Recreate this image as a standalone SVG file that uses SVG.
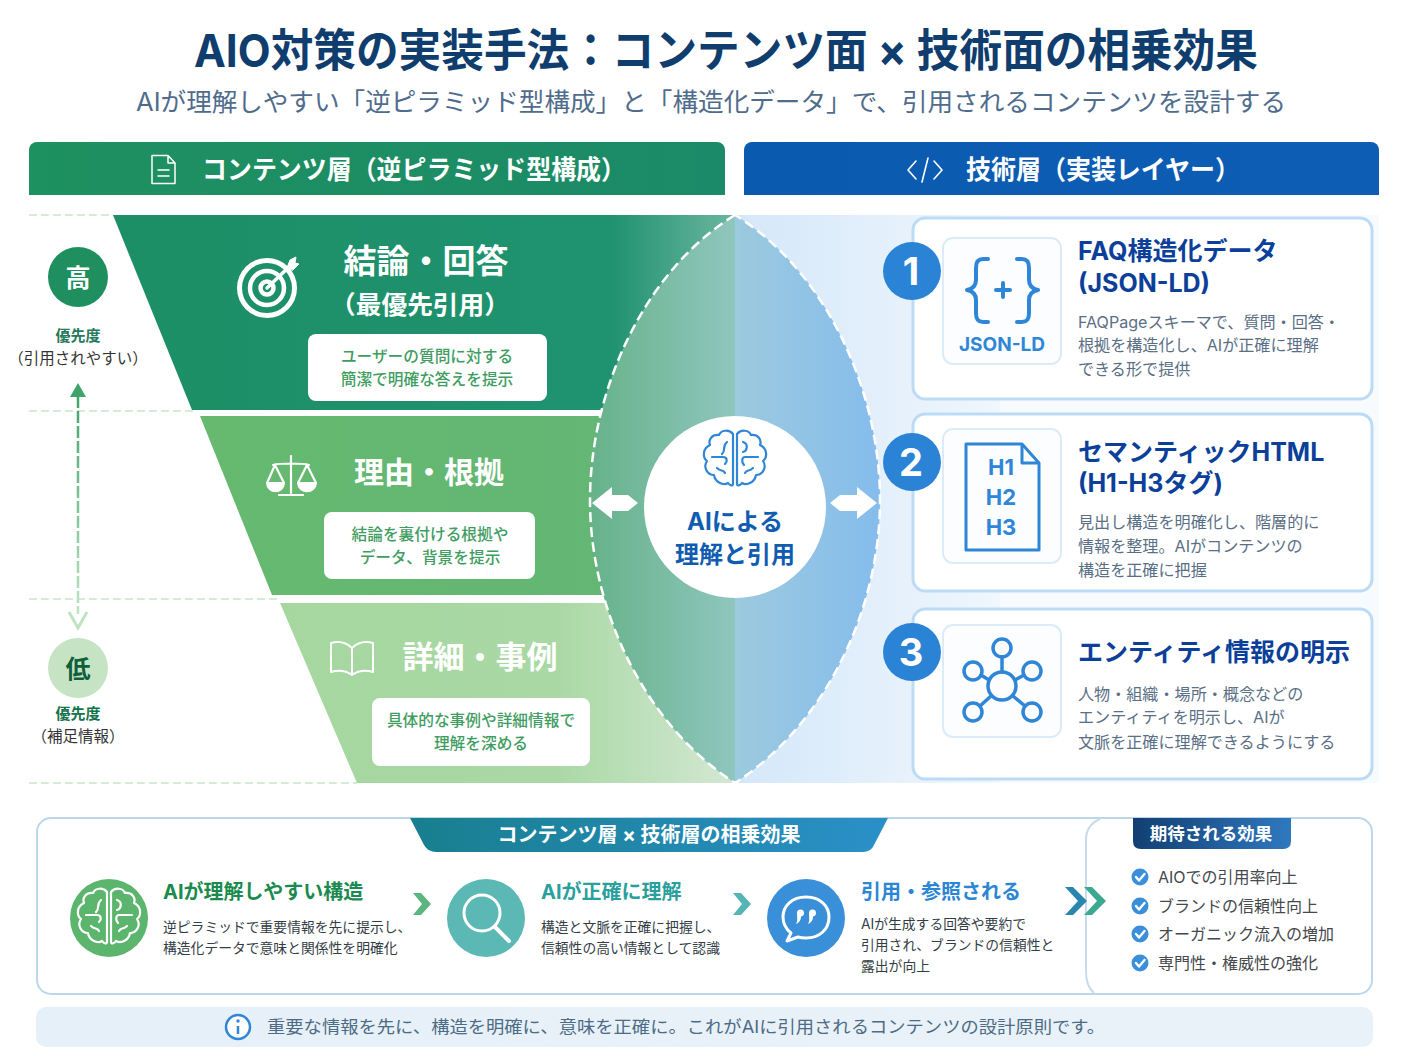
<svg xmlns="http://www.w3.org/2000/svg" width="1408" height="1056" viewBox="0 0 1408 1056">
<style>
text{font-family:Inter,"Noto Sans CJK JP","Noto Sans",sans-serif}
.b{font-weight:700}.m{text-anchor:middle}
.w{fill:#fff}
.ln{fill:none;stroke:#fff;stroke-linecap:round;stroke-linejoin:round}
.bl{fill:none;stroke:#2f86d6;stroke-linecap:round;stroke-linejoin:round}
.gt{font-size:15.700px;fill:#3f9d62;font-weight:500}
.bt{font-size:25px;font-weight:700;fill:#0b3f9a}
.d{font-size:16.100px;fill:#5a6f85}
.s{font-size:13.800px;fill:#333d45}
.st{font-size:20px;font-weight:700}
.c{font-size:16px;fill:#45484c}
.dash{stroke:#d6ecd9;stroke-width:2;stroke-dasharray:8 4;fill:none}
.outer{fill:#fff;stroke:#bcdcf6;stroke-width:3}
.icon{fill:#fbfdff;stroke:#dcebf8;stroke-width:2}
.num{fill:#2b83d6}
.wb{fill:#fff}
</style>
<defs>
<linearGradient id="gHead1" x1="0" x2="1"><stop offset="0" stop-color="#1e9160"/><stop offset="1" stop-color="#1b8a68"/></linearGradient>
<linearGradient id="gHead2" x1="0" x2="1"><stop offset="0" stop-color="#0a5bb0"/><stop offset="1" stop-color="#0e5db5"/></linearGradient>
<linearGradient id="gB1" gradientUnits="userSpaceOnUse" x1="113" x2="735" y1="0" y2="0"><stop offset="0" stop-color="#1d8f66"/><stop offset=".8" stop-color="#1f9270"/><stop offset="1" stop-color="#6db69f"/></linearGradient>
<linearGradient id="gB2" x1="0" x2="1"><stop offset="0" stop-color="#66b96f"/><stop offset="1" stop-color="#63b674"/></linearGradient>
<linearGradient id="gB3" gradientUnits="userSpaceOnUse" x1="280" x2="735" y1="0" y2="0"><stop offset="0" stop-color="#a6d79f"/><stop offset=".6" stop-color="#a9d8a4"/><stop offset="1" stop-color="#d3e8d3"/></linearGradient>
<linearGradient id="gBlue" gradientUnits="userSpaceOnUse" x1="735" x2="1000" y1="0" y2="0"><stop offset="0" stop-color="#d4e7f9"/><stop offset="1" stop-color="#f0f7fd"/></linearGradient>
<linearGradient id="gLensL" gradientUnits="userSpaceOnUse" x1="590" x2="735" y1="0" y2="0"><stop offset="0" stop-color="#66b28a"/><stop offset="1" stop-color="#8fc6bd"/></linearGradient>
<linearGradient id="gLensR" gradientUnits="userSpaceOnUse" x1="735" x2="880" y1="0" y2="0"><stop offset="0" stop-color="#9ccade"/><stop offset="1" stop-color="#85bcec"/></linearGradient>
<linearGradient id="gTab" x1="0" x2="1"><stop offset="0" stop-color="#187f8f"/><stop offset="1" stop-color="#2a90c8"/></linearGradient>
<linearGradient id="gTab2" x1="0" x2="1"><stop offset="0" stop-color="#123f72"/><stop offset="1" stop-color="#2f78bf"/></linearGradient>
<linearGradient id="gPri" gradientUnits="userSpaceOnUse" x1="78" x2="78" y1="396" y2="614"><stop offset="0" stop-color="#3ea568"/><stop offset="1" stop-color="#bfe3c2"/></linearGradient>
<linearGradient id="gNote" x1="0" x2="1"><stop offset="0" stop-color="#e6f0f8"/><stop offset="1" stop-color="#eaf2f9"/></linearGradient>
<clipPath id="lensL"><rect x="580" y="210" width="155" height="580"/></clipPath>
<clipPath id="lensR"><rect x="735" y="210" width="155" height="580"/></clipPath>
<g id="brainShape">
<path d="M-2 -26C-6 -31-14-30-16-25C-23-26-27-20-25-15C-32-12-33-3-28 1C-32 7-28 15-21 15C-20 22-12 26-7 23C-5 26-2 26-2 24Z"/>
<path d="M2 -26C6 -31 14-30 16-25C23-26 27-20 25-15C32-12 33-3 28 1C32 7 28 15 21 15C20 22 12 26 7 23C5 26 2 26 2 24Z"/>
<path d="M-8-18C-13-14-9-9-13-6M-23-3H-12C-8-3-7 1-10 4M-18 8C-14 12-12 9-10 13M8-18C14-16 12-9 8-8M23-3H10C7-3 6 2 9 5M18 8C14 12 12 9 10 13"/>
</g>
<g id="check"><circle r="8.500" fill="#3a8fdb"/><path d="M-4 0L-1 3.500L4.500-3" fill="none" stroke="#fff" stroke-width="2.400" stroke-linecap="round" stroke-linejoin="round"/></g>
</defs>
<rect width="1408" height="1056" fill="#fff"/>

<g id="title">
<text x="726" y="67" class="b m" font-size="45" fill="#0f3d6e" textLength="1064" lengthAdjust="spacingAndGlyphs">AIO対策の実装手法：コンテンツ面 × 技術面の相乗効果</text>
<text x="711" y="111" class="m" font-size="25" fill="#4f6c8c" textLength="1150" lengthAdjust="spacingAndGlyphs">AIが理解しやすい「逆ピラミッド型構成」と「構造化データ」で、引用されるコンテンツを設計する</text>
</g>

<g id="header-content">
<path d="M29 195V150a8 8 0 0 1 8-8H717a8 8 0 0 1 8 8V195Z" fill="url(#gHead1)"/>
<path d="M152 155.500H168L175 163V183.500H152ZM168 155.500V163H175M158 170H169M158 176H169" class="ln" stroke-width="1.500"/>
<text x="202" y="179" class="b w" font-size="26" textLength="424" lengthAdjust="spacingAndGlyphs">コンテンツ層（逆ピラミッド型構成）</text>
</g>
<g id="header-tech">
<path d="M744 195V150a8 8 0 0 1 8-8H1371a8 8 0 0 1 8 8V195Z" fill="url(#gHead2)"/>
<path d="M916 161L908 170L916 179M934 161L942 170L934 179M928 158L922 182" class="ln" stroke-width="1.600"/>
<text x="966" y="179" class="b w" font-size="26" textLength="274" lengthAdjust="spacingAndGlyphs">技術層（実装レイヤー）</text>
</g>

<g id="backdrop">
<rect x="735" y="215" width="265" height="568" fill="url(#gBlue)"/>
<rect x="1000" y="215" width="379" height="568" fill="#f7fbfe"/>
<path d="M29 215H113M29 411H194M29 599H278M29 783H357" class="dash"/>
</g>

<g id="band1">
<path d="M113 215H735V410H192Z" fill="url(#gB1)"/>
<g class="ln">
<circle cx="267" cy="288" r="27.500" stroke-width="5"/><circle cx="267" cy="288" r="17" stroke-width="4.500"/>
<circle cx="267" cy="288" r="6.500" stroke-width="4.500"/><path d="M267 288L292 264" stroke-width="3.500"/>
<path d="M287 268L290 260L296 257L295 263L299 264L293 270Z" fill="#fff" stroke-width="1"/>
</g>
<text x="426" y="273" class="b m w" font-size="33">結論・回答</text>
<text x="420" y="314" class="b m w" font-size="25" textLength="180" lengthAdjust="spacingAndGlyphs">（最優先引用）</text>
<rect x="308" y="334" width="239" height="67" rx="8" class="wb"/>
<text x="427" y="362" class="m gt">ユーザーの質問に対する</text>
<text x="427" y="385" class="m gt">簡潔で明確な答えを提示</text>
</g>

<g id="band2">
<path d="M200 416H640V595H272Z" fill="url(#gB2)"/>
<g class="ln" stroke-width="2.200">
<path d="M291 456V493M279 495H303M273 465C280 463 302 463 309 465"/>
<path d="M275 465L267 483H284ZM307 465L298 483H316Z"/>
<path d="M267 483C268 494 283 494 284 483ZM298 483C299 494 315 494 316 483Z" fill="#fff"/>
</g>
<text x="429" y="483" class="b m w" font-size="30">理由・根拠</text>
<rect x="324" y="512" width="211" height="67" rx="8" class="wb"/>
<text x="430" y="540" class="m gt">結論を裏付ける根拠や</text>
<text x="430" y="563" class="m gt">データ、背景を提示</text>
</g>

<g id="band3">
<path d="M280 603H735V783H357Z" fill="url(#gB3)"/>
<path d="M352 648C345 641 338 641 331 643V672C338 670 345 670 352 675C359 670 366 670 373 672V643C366 641 359 641 352 648ZM352 648V675" class="ln" stroke-width="2"/>
<text x="480" y="668" class="b m w" font-size="31">詳細・事例</text>
<rect x="372" y="698" width="218" height="68" rx="8" class="wb"/>
<text x="481" y="726" class="m gt">具体的な事例や詳細情報で</text>
<text x="481" y="749" class="m gt">理解を深める</text>
</g>

<g id="lens">
<path d="M735 215C645 270 590 390 590 500C590 610 645 725 735 783C825 725 880 610 880 500C880 390 825 270 735 215Z" fill="url(#gLensL)" clip-path="url(#lensL)"/>
<path d="M735 215C645 270 590 390 590 500C590 610 645 725 735 783C825 725 880 610 880 500C880 390 825 270 735 215Z" fill="url(#gLensR)" clip-path="url(#lensR)"/>
<path d="M735 215C645 270 590 390 590 500C590 610 645 725 735 783C825 725 880 610 880 500C880 390 825 270 735 215Z" fill="none" stroke="#fff" stroke-width="2.500" stroke-dasharray="10 5"/>
</g>

<g id="center-ai">
<circle cx="735" cy="507" r="91" fill="#fff"/>
<use href="#brainShape" x="735" y="460" class="bl" stroke-width="2.200"/>
<text x="735" y="530" class="b m" font-size="24" fill="#0f5cb0">AIによる</text>
<text x="735" y="563" class="b m" font-size="24" fill="#0f5cb0">理解と引用</text>
</g>

<g id="priority">
<g id="priority-high">
<circle cx="78" cy="277" r="30" fill="#1f8f5f"/>
<text x="78" y="287" class="b m w" font-size="25">高</text>
<text x="78" y="341" class="b m" font-size="15" fill="#26795a">優先度</text>
<text x="78" y="364" class="m" font-size="15.500" fill="#333">（引用されやすい）</text>
</g>
<g id="priority-low">
<circle cx="78" cy="668" r="30" fill="#c6e4c4"/>
<text x="78" y="678" class="b m" font-size="25" fill="#0f5f3c">低</text>
<text x="78" y="719" class="b m" font-size="15" fill="#14734a">優先度</text>
<text x="78" y="742" class="m" font-size="15.500" fill="#333">（補足情報）</text>
</g>
</g>

<g id="card1">
<rect x="913" y="218" width="459" height="181" rx="12" class="outer"/>
<rect x="943" y="238" width="118" height="126" rx="10" class="icon"/>
<g class="bl" stroke-width="4">
<path d="M988 259H983C977 259 976 263 976 268V280C976 286 972 289 967 290C972 291 976 294 976 300V313C976 318 977 322 983 322H988"/>
<path d="M1017 259H1022C1028 259 1029 263 1029 268V280C1029 286 1033 289 1038 290C1033 291 1029 294 1029 300V313C1029 318 1028 322 1022 322H1017"/>
<path d="M1003 283V297M996 290H1010"/>
</g>
<text x="1002" y="351" class="b m" font-size="19" fill="#2f86d6">JSON-LD</text>
<text x="1078" y="260" class="bt">FAQ構造化データ</text>
<text x="1078" y="292" class="bt">(JSON-LD)</text>
<text x="1078" y="328" class="d">FAQPageスキーマで、質問・回答・</text>
<text x="1078" y="351" class="d">根拠を構造化し、AIが正確に理解</text>
<text x="1078" y="375" class="d">できる形で提供</text>
<circle cx="912" cy="271" r="29" class="num"/>
<text x="911" y="285" class="b m w" font-size="38">1</text>
</g>

<g id="card2">
<rect x="913" y="414" width="459" height="177" rx="12" class="outer"/>
<rect x="943" y="429" width="118" height="134" rx="10" class="icon"/>
<path d="M966 444H1022L1039 463V550H966ZM1022 444V463H1039" class="bl" stroke-width="3"/>
<text x="1001" y="475" class="b m" font-size="22" fill="#2f86d6">H1</text>
<text x="1001" y="505" class="b m" font-size="22" fill="#2f86d6">H2</text>
<text x="1001" y="535" class="b m" font-size="22" fill="#2f86d6">H3</text>
<text x="1078" y="461" class="bt">セマンティックHTML</text>
<text x="1078" y="492" class="bt">(H1-H3タグ)</text>
<text x="1078" y="528" class="d">見出し構造を明確化し、階層的に</text>
<text x="1078" y="552" class="d">情報を整理。AIがコンテンツの</text>
<text x="1078" y="576" class="d">構造を正確に把握</text>
<circle cx="912" cy="462" r="29" class="num"/>
<text x="911" y="476" class="b m w" font-size="38">2</text>
</g>

<g id="card3">
<rect x="913" y="609" width="459" height="170" rx="12" class="outer"/>
<rect x="943" y="625" width="118" height="112" rx="10" class="icon"/>
<g class="bl" stroke-width="3.500">
<circle cx="1002" cy="686" r="14"/>
<circle cx="1002" cy="648" r="9"/><circle cx="973" cy="671" r="9"/><circle cx="1032" cy="671" r="9"/><circle cx="973" cy="712" r="9"/><circle cx="1032" cy="712" r="9"/>
<path d="M1002 657V672M981 675L989 680M1024 675L1015 680M980 706L991 696M1025 706L1013 696"/>
</g>
<text x="1078" y="661" class="bt">エンティティ情報の明示</text>
<text x="1078" y="700" class="d">人物・組織・場所・概念などの</text>
<text x="1078" y="723" class="d">エンティティを明示し、AIが</text>
<text x="1078" y="748" class="d">文脈を正確に理解できるようにする</text>
<circle cx="912" cy="652" r="29" class="num"/>
<text x="911" y="666" class="b m w" font-size="38">3</text>
</g>

<g id="synergy-panel">
<rect x="37" y="818" width="1335" height="176" rx="14" fill="#fff" stroke="#bcd6ea" stroke-width="2"/>
<path d="M410 818H888L874 845Q871 852 863 852H436Q428 852 424 845Z" fill="url(#gTab)"/>
<text x="649" y="842" class="b m w" font-size="20">コンテンツ層 × 技術層の相乗効果</text>
</g>

<g id="step1">
<circle cx="109" cy="918" r="39" fill="#5cb56c"/>
<use href="#brainShape" x="109" y="918" class="ln" stroke-width="2.200"/>
<text x="163" y="899" class="st" fill="#1a8a4f">AIが理解しやすい構造</text>
<text x="163" y="932" class="s">逆ピラミッドで重要情報を先に提示し、</text>
<text x="163" y="953" class="s">構造化データで意味と関係性を明確化</text>
</g>
<g id="step2">
<circle cx="486" cy="918" r="39" fill="#5bb8b4"/>
<circle cx="482" cy="913" r="18" class="ln" stroke-width="3"/><path d="M495 927L509 941" class="ln" stroke-width="4"/>
<text x="541" y="899" class="st" fill="#2aa09d">AIが正確に理解</text>
<text x="541" y="932" class="s">構造と文脈を正確に把握し、</text>
<text x="541" y="953" class="s">信頼性の高い情報として認識</text>
</g>
<g id="step3">
<circle cx="806" cy="918" r="39" fill="#3a8fd9"/>
<path d="M806 897C792 897 783 906 783 917C783 924 786 929 791 933L787 941L798 937C801 938 803 938 806 938C820 938 829 929 829 917C829 906 820 897 806 897Z" class="ln" stroke-width="3"/>
<path d="M797 913a3.500 3.500 0 1 1 4 3.500C801 920 799 923 796 924C798 921 797 917 797 913ZM809 913a3.500 3.500 0 1 1 4 3.500C813 920 811 923 808 924C810 921 809 917 809 913Z" fill="#fff"/>
<text x="861" y="899" class="st" fill="#2b86d6">引用・参照される</text>
<text x="861" y="929" class="s">AIが生成する回答や要約で</text>
<text x="861" y="950" class="s">引用され、ブランドの信頼性と</text>
<text x="861" y="971" class="s">露出が向上</text>
</g>

<g id="effects">
<path d="M1100 819Q1086 825 1086 840V972Q1086 986 1094 993" fill="none" stroke="#c6dcec" stroke-width="2"/>
<path d="M1133 818H1291V841Q1291 849 1283 849H1141Q1133 849 1133 841Z" fill="url(#gTab2)"/>
<text x="1211" y="840" class="b m w" font-size="17.500">期待される効果</text>
<use href="#check" x="1140" y="877"/><text x="1158" y="883" class="c">AIOでの引用率向上</text>
<use href="#check" x="1140" y="906"/><text x="1158" y="912" class="c">ブランドの信頼性向上</text>
<use href="#check" x="1140" y="934"/><text x="1158" y="940" class="c">オーガニック流入の増加</text>
<use href="#check" x="1140" y="963"/><text x="1158" y="969" class="c">専門性・権威性の強化</text>
</g>

<g id="note">
<rect x="36" y="1007" width="1337" height="40" rx="10" fill="url(#gNote)"/>
<circle cx="238" cy="1027" r="12" fill="#fff" stroke="#2f86d6" stroke-width="2.500"/>
<path d="M238 1026V1034" stroke="#2f86d6" stroke-width="2.500" fill="none"/><circle cx="238" cy="1021" r="1.700" fill="#2f86d6"/>
<text x="267" y="1033" font-size="17" fill="#4d6b85" textLength="838" lengthAdjust="spacingAndGlyphs">重要な情報を先に、構造を明確に、意味を正確に。これがAIに引用されるコンテンツの設計原則です。</text>
</g>

<g id="connectors">
<path d="M78 396V614" stroke="url(#gPri)" stroke-width="2.500" stroke-dasharray="12 3" fill="none"/>
<path d="M78 383L86 397H70Z" fill="#3ea568"/>
<path d="M69 612L78 628L87 612" fill="none" stroke="#bfe3c2" stroke-width="3"/>
<path d="M592 503L612 487V495H628L638 503L628 511H612V519Z" fill="#fff"/>
<path d="M877 503L857 487V495H840L830 503L840 511H857V519Z" fill="#fff"/>
<path d="M413 893H421L431 904L421 915H413L422 904Z" fill="#5cb57e"/>
<path d="M733 893H741L751 904L741 915H733L742 904Z" fill="#55b4b4"/>
<path d="M1065 887H1073L1087 901L1073 915H1065L1078 901Z" fill="#2a86ae"/>
<path d="M1084 887H1092L1106 901L1092 915H1084L1097 901Z" fill="#3ba88f"/>
</g>
</svg>
